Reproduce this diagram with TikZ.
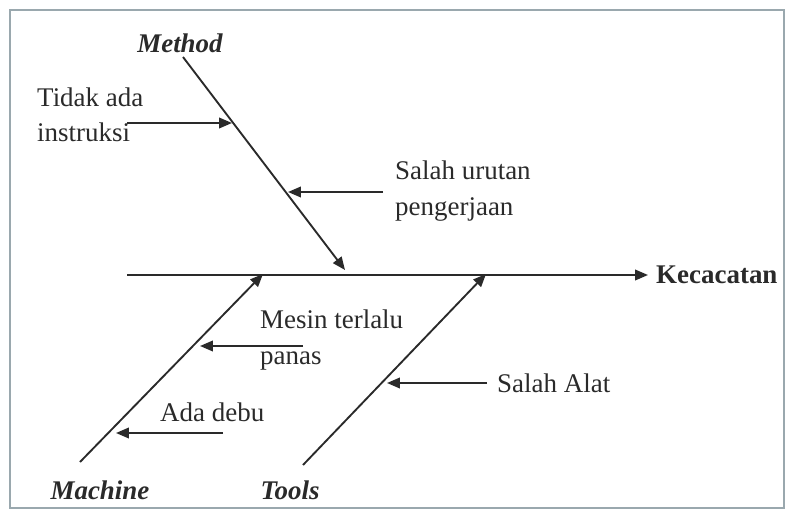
\documentclass[tikz,border=0pt]{standalone}
\usepackage{fontspec}
\setmainfont{Liberation Serif}
\usepackage{xcolor}
\usetikzlibrary{arrows.meta}
\definecolor{framegray}{HTML}{9AA8AE}
\definecolor{inkgray}{HTML}{2A2A2A}

\begin{document}
\begin{tikzpicture}[x=0.03cm,y=-0.03cm,
  bone/.style={line width=1.6pt,inkgray,-{Triangle[length=11pt,width=9pt]}},
  cause/.style={line width=1.6pt,inkgray,-{Triangle[length=11pt,width=9pt]}},
  lbl/.style={font=\fontsize{23}{30}\selectfont,text=inkgray,align=left,inner sep=0pt,anchor=west},
  head/.style={font=\fontsize{23}{30}\selectfont\bfseries\itshape,text=inkgray,inner sep=0pt}]
  \useasboundingbox (0,0) rectangle (788,513);
  \draw[framegray,line width=1.4pt] (10,10) rectangle (784,508);

  \node[head] (method) at (180,43) {Method};
  \node[head] (machine) at (100,490) {Machine};
  \node[head] (tools) at (290,490) {Tools};
  \node[lbl,font=\fontsize{23}{30}\selectfont\bfseries] (defect) at (656,275) {Kecacatan};

  \coordinate (spine) at (127,275);
  \coordinate (spineend) at (648,275);
  \coordinate (methodtop) at (183,57);
  \coordinate (methodtip) at (345,270);
  \coordinate (machinebot) at (80,462);
  \coordinate (machinetip) at (263,274);
  \coordinate (toolsbot) at (303,465);
  \coordinate (toolstip) at (486,274);

  \draw[bone] (spine) -- (spineend);
  \draw[bone] (methodtop) -- (methodtip);
  \draw[bone] (machinebot) -- (machinetip);
  \draw[bone] (toolsbot) -- (toolstip);

  \node[lbl] (instruksi) at (37,115) {Tidak ada\\instruksi};
  \node[lbl] (urutan) at (395,191) {Salah urutan\\pengerjaan};
  \node[lbl] (panas) at (260,340) {Mesin terlalu\\panas};
  \node[lbl] (debu) at (160,412) {Ada debu};
  \node[lbl] (alat) at (497,383) {Salah Alat};

  \coordinate (instruksiend) at (232,123);
  \coordinate (urutanend) at (288,192);
  \coordinate (panasend) at (200,346);
  \coordinate (debuend) at (116,433);
  \coordinate (alatend) at (387,383);

  \draw[cause] (127,123) -- (instruksiend);
  \draw[cause] (383,192) -- (urutanend);
  \draw[cause] (303,346) -- (panasend);
  \draw[cause] (223,433) -- (debuend);
  \draw[cause] (487,383) -- (alatend);
\end{tikzpicture}
\end{document}
